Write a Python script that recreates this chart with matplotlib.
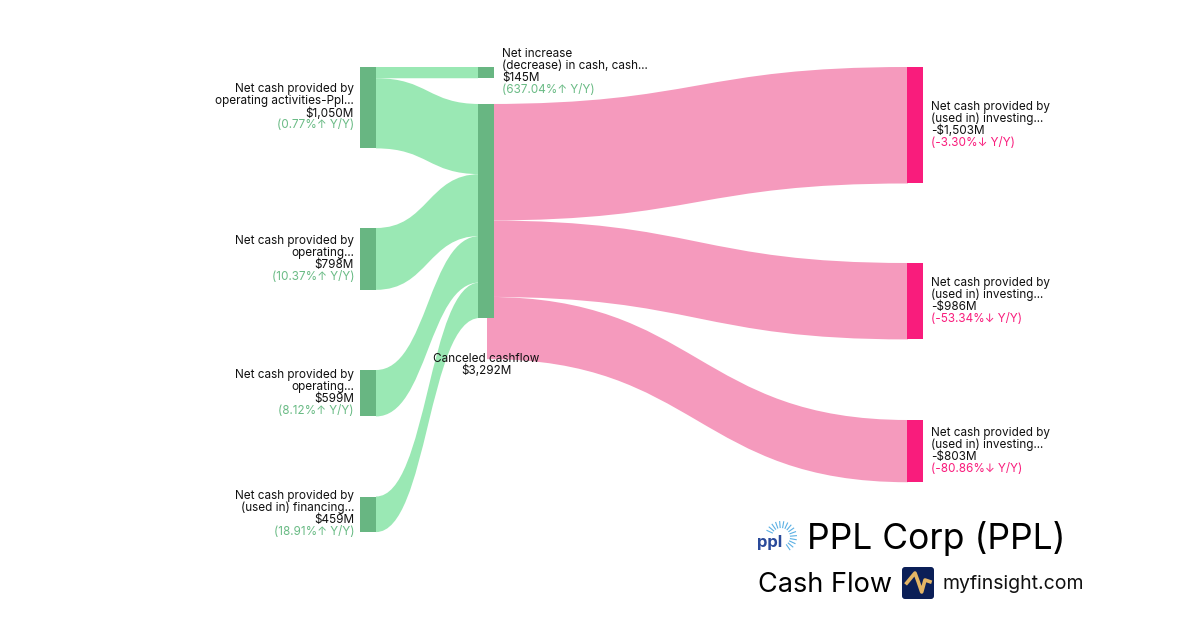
#!/usr/bin/env python
import numpy as np
import matplotlib
matplotlib.use('Agg')
import matplotlib.pyplot as plt
from matplotlib.path import Path
from matplotlib.patches import PathPatch, Rectangle, FancyBboxPatch

############# DATA ############
source_names  = [['Net cash provided by', 'operating activities-Ppl...'],
                 ['Net cash provided by', 'operating...'],
                 ['Net cash provided by', 'operating...'],
                 ['Net cash provided by', '(used in) financing...']]
source_values = [1050, 798, 599, 459]
source_labels = ['$1,050M', '$798M', '$599M', '$459M']
source_yoy    = ['(0.77%↑ Y/Y)', '(10.37%↑ Y/Y)', '(8.12%↑ Y/Y)', '(18.91%↑ Y/Y)']

increase_name  = ['Net increase', '(decrease) in cash, cash...']
increase_value = 145
increase_label = '$145M'
increase_yoy   = '(637.04%↑ Y/Y)'

target_names  = [['Net cash provided by', '(used in) investing...']] * 3
target_values = [1503, 986, 803]
target_labels = ['-$1,503M', '-$986M', '-$803M']
target_yoy    = ['(-3.30%↓ Y/Y)', '(-53.34%↓ Y/Y)', '(-80.86%↓ Y/Y)']

canceled_name  = 'Canceled cashflow'
canceled_label = '$3,292M'

############# PLOT SETTINGS ############
font_family  = ['Inter', 'DejaVu Sans']
label_size   = 8.45
px_per_value = 0.0775
source_tops  = [67, 228, 370, 496.5]
target_tops  = [67, 263, 420]
middle_top   = 104
left_x       = (360, 376)
middle_x     = (478, 494)
right_x      = (907, 923)
hidden_x     = 487  # pink flows start behind the middle node
green_link   = '#9AE8B4'
green_node   = '#68B682'
green_text   = '#6ABB85'
pink_link    = '#F59ABD'
pink_node    = '#F91C7C'
pink_text    = '#F91C7C'

plt.rcParams['font.family'] = font_family


def add_link(ax, x0, x1, y0_top, y1_top, height, color):
    """Filled sankey ribbon from one vertical edge to another."""
    xm = (x0 + x1) / 2
    verts = [(x0, y0_top), (xm, y0_top), (xm, y1_top), (x1, y1_top),
             (x1, y1_top + height), (xm, y1_top + height), (xm, y0_top + height), (x0, y0_top + height),
             (x0, y0_top)]
    codes = [Path.MOVETO, Path.CURVE4, Path.CURVE4, Path.CURVE4,
             Path.LINETO, Path.CURVE4, Path.CURVE4, Path.CURVE4, Path.CLOSEPOLY]
    ax.add_patch(PathPatch(Path(verts, codes), facecolor=color, edgecolor='none', zorder=1))


def add_node(ax, xs, top, height, color, alpha=1.0):
    ax.add_patch(Rectangle((xs[0], top), xs[1] - xs[0], height, facecolor=color, edgecolor='none',
                           alpha=alpha, zorder=2))


def add_label(ax, x, center, lines, color_last, ha):
    """Stack of 12 px lines, last line holds the Y/Y change in colour."""
    y = center - 18.2
    for i, line in enumerate(lines):
        ax.text(x, y + i * 12, line, ha=ha, va='center', fontsize=label_size, zorder=5,
                color=color_last if i == len(lines) - 1 else '#111111')


fig = plt.figure(figsize=(12, 6.3), dpi=100)
ax = fig.add_axes([0, 0, 1, 1])
ax.set_xlim(0, 1200)
ax.set_ylim(630, 0)
ax.axis('off')

############# LINKS AND NODES ############
heights = [v * px_per_value for v in source_values]
inc_h = increase_value * px_per_value

# small flow out of the first source
add_link(ax, left_x[1], middle_x[0], source_tops[0], source_tops[0], inc_h, green_link)
add_node(ax, (middle_x[0], middle_x[1]), source_tops[0], inc_h, green_node)

y_mid = middle_top
for i, (top, h) in enumerate(zip(source_tops, heights)):
    src_top = top + inc_h if i == 0 else top
    flow = h - inc_h if i == 0 else h
    add_link(ax, left_x[1], middle_x[0] + 2, src_top, y_mid, flow, green_link)
    add_node(ax, left_x, top, h, green_node)
    add_node(ax, middle_x, y_mid, flow - 0.4, green_node)
    y_mid += flow

y_mid = middle_top
for top, v in zip(target_tops, target_values):
    h = v * px_per_value
    add_link(ax, hidden_x, right_x[0] + 1, y_mid, top, h, pink_link)
    add_node(ax, right_x, top, h, pink_node)
    y_mid += h

############# LABELS ############
for top, h, name, lab, yoy in zip(source_tops, heights, source_names, source_labels, source_yoy):
    add_label(ax, 354, top + h / 2, name + [lab, yoy], green_text, 'right')

add_label(ax, 502, source_tops[0] + inc_h / 2, increase_name + [increase_label, increase_yoy], green_text, 'left')

for top, v, name, lab, yoy in zip(target_tops, target_values, target_names, target_labels, target_yoy):
    add_label(ax, 931, top + v * px_per_value / 2, name + [lab, yoy], pink_text, 'left')

ax.text(486, 358.8, canceled_name, ha='center', va='center', fontsize=label_size, color='#111111', zorder=5)
ax.text(486, 370.8, canceled_label, ha='center', va='center', fontsize=label_size, color='#111111', zorder=5)

############# TITLE BLOCK ############
ax.text(807, 539, 'PPL Corp (PPL)', ha='left', va='center', fontsize=25.5, color='#000000', zorder=5)
ax.text(758, 585, 'Cash Flow', ha='left', va='center', fontsize=19.5, color='#000000', zorder=5)
ax.text(942, 584, 'myfinsight.com', ha='left', va='center', fontsize=14, color='#111111', zorder=5)

# ppl logo
ax.text(757, 542, 'ppl', ha='left', va='center', fontsize=12, fontweight='bold', color='#2A4A9A', zorder=5)
ray_angles = np.deg2rad(np.arange(-155, 70, 15))
for a in ray_angles:
    ax.plot([781 + 9 * np.cos(a), 781 + 16 * np.cos(a)], [537 + 9 * np.sin(a), 537 + 16 * np.sin(a)],
            color='#5BB0E4', lw=0.8, solid_capstyle='butt', zorder=4)

# myfinsight icon
ax.add_patch(FancyBboxPatch((902, 567), 32, 32, boxstyle='round,pad=0,rounding_size=3',
                            facecolor='#0B1F57', edgecolor='none', zorder=4))
ax.plot([906.7, 915, 918.3, 921.7, 925, 930], [583, 573, 582, 592, 580, 581.7], color='#E3B565', lw=2.6,
        solid_joinstyle='round', zorder=5)

fig.savefig('out.png', dpi=100, facecolor='white')
